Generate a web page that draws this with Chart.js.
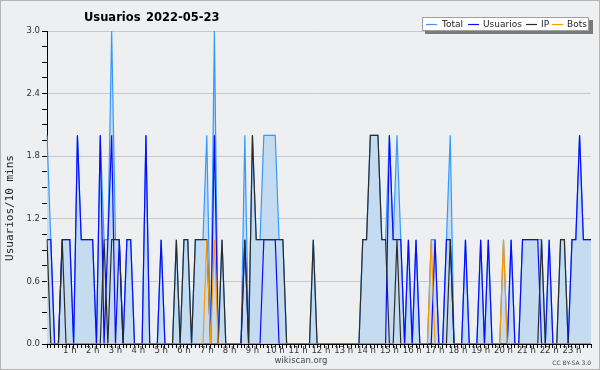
<!DOCTYPE html>
<html>
<head>
<meta charset="utf-8">
<title>Usuarios 2022-05-23</title>
<script src="https://cdn.jsdelivr.net/npm/chart.js@4.4.0/dist/chart.umd.min.js"></script>
<style>
  html, body { margin: 0; padding: 0; background: #eeeff0; }
  canvas { display: block; }
</style>
</head>
<body>
<canvas id="usersChart" width="600" height="370"></canvas>
<script>
// 10-minute slots over the day (144 categories)
const slots = [];
for (let h = 0; h < 24; h++) {
    for (let m = 0; m < 60; m += 10) {
        slots.push(h + ':' + String(m).padStart(2, '0'));
    }
}

const hourLabels = ['1 h', '2 h', '3 h', '4 h', '5 h', '6 h', '7 h', '8 h', '9 h', '10 h', '11 h', '12 h',
    '13 h', '14 h', '15 h', '16 h', '17 h', '18 h', '19 h', '20 h', '21 h', '22 h', '23 h'];

const yTicks = [0.0, 0.6, 1.2, 1.8, 2.4, 3.0];

// Values per 10 minutes, one row = 4 hours
const total = [
    2,1,0,0,1,1,1,0,2,1,1,1,1,0,2,1,1,3,1,1,0,1,1,0,
    0,0,2,0,0,0,1,0,0,0,1,0,1,1,0,1,1,1,2,0,3,0,1,0,
    0,0,0,0,2,0,2,1,1,2,2,2,2,1,1,0,0,0,0,0,0,0,1,0,
    0,0,0,0,0,0,0,0,0,0,0,1,1,2,2,2,1,1,2,1,2,1,0,1,
    0,1,0,0,0,1,1,0,0,1,2,0,0,0,1,0,0,0,1,0,1,0,0,0,
    1,0,1,0,0,1,1,1,1,1,1,0,1,0,0,1,1,0,1,1,2,1,1,1
];
const usuarios = [
    1,1,0,0,1,1,1,0,2,1,1,1,1,0,2,0,1,2,0,1,0,1,1,0,
    0,0,2,0,0,0,1,0,0,0,0,0,0,0,0,0,0,0,0,0,2,0,0,0,
    0,0,0,0,1,0,0,0,0,1,1,1,1,0,0,0,0,0,0,0,0,0,0,0,
    0,0,0,0,0,0,0,0,0,0,0,0,0,0,0,0,0,0,2,1,1,1,0,1,
    0,1,0,0,0,0,1,0,0,1,1,0,0,0,1,0,0,0,1,0,1,0,0,0,
    0,0,1,0,0,1,1,1,1,1,0,0,1,0,0,0,0,0,1,1,2,1,1,1
];
const ip = [
    1,0,0,0,1,0,0,0,0,0,0,0,0,0,0,1,0,1,1,1,0,0,0,0,
    0,0,0,0,0,0,0,0,0,0,1,0,1,1,0,1,1,1,1,0,0,0,1,0,
    0,0,0,0,1,0,2,1,1,1,1,1,1,1,1,0,0,0,0,0,0,0,1,0,
    0,0,0,0,0,0,0,0,0,0,0,1,1,2,2,2,1,1,0,0,1,0,0,0,
    0,0,0,0,0,0,0,0,0,0,1,0,0,0,0,0,0,0,0,0,0,0,0,0,
    0,0,0,0,0,0,0,0,0,0,1,0,0,0,0,1,1,0,0,0,0,0,0,0
];
const bots = [
    0,0,0,0,0,0,0,0,0,0,0,0,0,0,0,0,0,0,0,0,0,0,0,0,
    0,0,0,0,0,0,0,0,0,0,0,0,0,0,0,0,0,0,1,0,1,0,0,0,
    0,0,0,0,0,0,0,0,0,0,0,0,0,0,0,0,0,0,0,0,0,0,0,0,
    0,0,0,0,0,0,0,0,0,0,0,0,0,0,0,0,0,0,0,0,0,0,0,0,
    0,0,0,0,0,1,0,0,0,0,0,0,0,0,0,0,0,0,0,0,0,0,0,0,
    1,0,0,0,0,0,0,0,0,0,0,0,0,0,0,0,0,0,0,0,0,0,0,0
];

const FONT = '"DejaVu Sans", sans-serif';

// Background, frame, title, axis title, legend box and footer
const decorations = {
    id: 'decorations',
    beforeDraw(chart) {
        const ctx = chart.ctx;
        ctx.save();
        ctx.fillStyle = '#eeeff0';
        ctx.fillRect(0, 0, chart.width, chart.height);
        ctx.restore();
    },
    afterDraw(chart) {
        const ctx = chart.ctx;
        ctx.save();

        ctx.strokeStyle = '#b4b4b4';
        ctx.lineWidth = 1;
        ctx.strokeRect(0.5, 0.5, chart.width - 1, chart.height - 1);

        // title
        ctx.fillStyle = '#000';
        ctx.font = 'bold 11.5px ' + FONT;
        ctx.textBaseline = 'alphabetic';
        ctx.textAlign = 'left';
        ctx.fillText('Usuarios', 84, 21);
        ctx.fillText('2022-05-23', 146, 21);

        // footer
        ctx.fillStyle = '#444';
        ctx.font = '8.5px ' + FONT;
        ctx.textAlign = 'center';
        ctx.textBaseline = 'middle';
        ctx.fillText('wikiscan.org', 301, 361);
        ctx.font = '6px ' + FONT;
        ctx.textAlign = 'right';
        ctx.fillText('CC BY-SA 3.0', 591, 363);

        // legend box with shadow
        ctx.fillStyle = '#7a7a7a';
        ctx.fillRect(425, 20, 168, 14);
        ctx.fillStyle = '#ffffff';
        ctx.fillRect(422, 17, 167, 14);
        ctx.strokeStyle = '#a0a0a0';
        ctx.strokeRect(422.5, 17.5, 166, 13);

        const items = [[426, 442], [468, 483], [526, 541], [552, 567]];
        ctx.font = '9px ' + FONT;
        ctx.textAlign = 'left';
        ctx.textBaseline = 'middle';
        chart.data.datasets.forEach((ds, i) => {
            const [lx, tx] = items[i];
            ctx.strokeStyle = ds.borderColor;
            ctx.lineWidth = 1.2;
            ctx.beginPath();
            ctx.moveTo(lx, 24.5);
            ctx.lineTo(lx + 11, 24.5);
            ctx.stroke();
            ctx.fillStyle = '#222';
            ctx.fillText(ds.label, tx, 24.5);
        });

        // y axis title
        ctx.translate(13, 208);
        ctx.rotate(-Math.PI / 2);
        ctx.font = '11px "DejaVu Sans Mono", monospace';
        ctx.textAlign = 'center';
        ctx.textBaseline = 'alphabetic';
        ctx.fillStyle = '#222';
        ctx.fillText('Usuarios/10 mins', 0, 0);

        ctx.restore();
    }
};

const line = (label, data, color, order) => ({
    label: label,
    data: data,
    borderColor: color,
    borderWidth: 1.2,
    pointRadius: 0,
    tension: 0,
    fill: false,
    order: order
});

const totalSet = line('Total', total, '#3399ff', 4);
totalSet.fill = 'origin';
totalSet.backgroundColor = '#c5dcf0';

const config = {
    type: 'line',
    data: {
        labels: slots,
        datasets: [
            totalSet,
            line('Usuarios', usuarios, '#0a0aff', 3),
            line('IP', ip, '#2b2b2b', 2),
            line('Bots', bots, '#ff9900', 1)
        ]
    },
    options: {
        responsive: false,
        animation: false,
        layout: { padding: { top: 31, right: 9, bottom: 0, left: 0 } },
        plugins: {
            legend: { display: false },
            tooltip: { enabled: false }
        },
        scales: {
            x: {
                type: 'category',
                offset: false,
                grid: {
                    drawOnChartArea: false,
                    drawTicks: true,
                    tickLength: 4,
                    tickColor: '#000'
                },
                border: { color: '#000', width: 1 },
                ticks: {
                    autoSkip: false,
                    maxRotation: 0,
                    padding: -2,
                    color: '#333',
                    font: { family: FONT, size: 8.5 },
                    callback: (v, i) => (i % 6 === 0 && i > 0) ? hourLabels[i / 6 - 1] : ''
                },
                afterFit: (s) => { s.height = 26; s.paddingLeft = 0; s.paddingRight = 0; }
            },
            y: {
                min: yTicks[0],
                max: yTicks[yTicks.length - 1],
                grid: {
                    color: (c) => yTicks.some(t => Math.abs(t - c.tick.value) < 1e-6) ? '#c8c8c8' : 'rgba(0,0,0,0)',
                    tickColor: '#000',
                    tickLength: 5
                },
                border: { color: '#000', width: 1 },
                ticks: {
                    stepSize: 0.15,
                    padding: 2,
                    color: '#333',
                    font: { family: FONT, size: 8.5 },
                    callback: (v) => yTicks.some(t => Math.abs(t - v) < 1e-6) ? v.toFixed(1) : ''
                },
                afterFit: (s) => { s.width = 47; s.paddingTop = 0; s.paddingBottom = 0; }
            }
        }
    },
    plugins: [decorations]
};

const usersChart = new Chart(document.getElementById('usersChart'), config);
</script>
</body>
</html>
